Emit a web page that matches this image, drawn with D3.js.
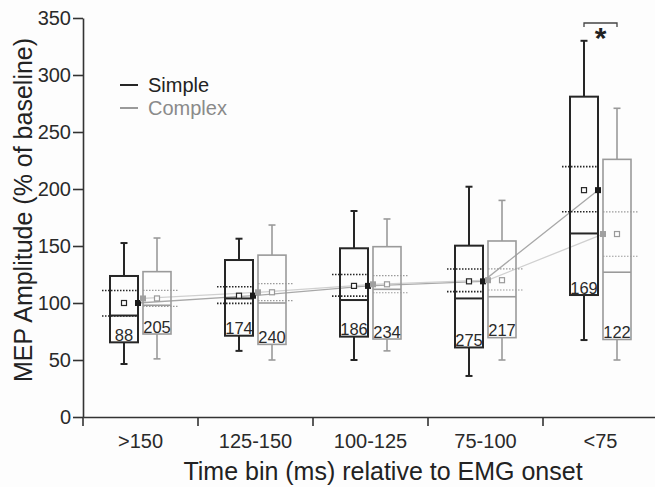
<!DOCTYPE html>
<html>
<head>
<meta charset="utf-8">
<script src="https://cdn.jsdelivr.net/npm/d3@7"></script>
<style>
  body { margin: 0; background: #fdfdfd; }
  svg { font-family: "Liberation Sans", Arial, sans-serif; }
</style>
</head>
<body>
<svg class="chart" width="655" height="487"></svg>
<script>
// time bins
var categories = [">150", "125-150", "100-125", "75-100", "<75"];
var yTicks = [0, 50, 100, 150, 200, 250, 300, 350];

// Simple task
var simpleLow    = [46.5, 58, 50, 36, 67.5];
var simpleQ1     = [65.5, 71.3, 70.5, 61, 107];
var simpleMedian = [89, 104, 102.6, 104, 161];
var simpleQ3     = [123.7, 137.7, 148, 150.3, 281];
var simpleHigh   = [152.6, 156.4, 180.7, 202, 330];
var simpleMean   = [100, 106.4, 115, 119, 199];
var simpleCiLow  = [88.6, 99.7, 106, 110, 180];
var simpleCiHigh = [111, 114.3, 125, 129.8, 219.6];
var simpleN      = [88, 174, 186, 275, 169];

// Complex task
var complexLow    = [51, 50, 58, 50, 50];
var complexQ1     = [72.8, 63.7, 68.4, 69.6, 68];
var complexMedian = [98, 100, 112, 105.5, 127];
var complexQ3     = [127.5, 142, 149.4, 154.4, 226];
var complexHigh   = [157, 168.4, 173.7, 190, 270.8];
var complexMean   = [104, 109.4, 116.4, 120, 160.5];
var complexCiLow  = [97, 102, 109, 111.4, 141];
var complexCiHigh = [111, 117, 124, 130, 180];
var complexN      = [205, 240, 234, 217, 122];

var svg = d3.select(".chart");

var x = d3.scaleBand().domain(categories).range([83, 658]).padding(0);
var y = d3.scaleLinear().domain([0, 350]).range([417, 18]);

var boxW = 28;
var offset = 16.5;

function buildRows(low, q1, med, q3, high, mean, ciLow, ciHigh, n) {
  return categories.map(function(c, i) {
    return {cat: c, low: low[i], q1: q1[i], med: med[i], q3: q3[i], high: high[i],
            mean: mean[i], ciLow: ciLow[i], ciHigh: ciHigh[i], n: n[i]};
  });
}

var series = [
  {name: "Simple", color: "#262626", dotColor: "#1a1a1a", lineColor: "#a8a8a8", width: 2, shift: -offset,
   rows: buildRows(simpleLow, simpleQ1, simpleMedian, simpleQ3, simpleHigh, simpleMean, simpleCiLow, simpleCiHigh, simpleN)},
  {name: "Complex", color: "#9a9a9a", dotColor: "#a0a0a0", lineColor: "#d0d0d0", width: 1.6, shift: offset,
   rows: buildRows(complexLow, complexQ1, complexMedian, complexQ3, complexHigh, complexMean, complexCiLow, complexCiHigh, complexN)}
];

function cx(d, s) { return x(d.cat) + x.bandwidth() / 2 + s.shift; }

// Axes
var yAxis = d3.axisLeft(y).tickValues(yTicks).tickSize(10).tickPadding(2).tickSizeOuter(0);
var gy = svg.append("g").attr("transform", "translate(83,0)").call(yAxis);
gy.selectAll("text").style("font-size", "20px").attr("fill", "#2a2a2a");

var xAxis = d3.axisBottom(x).tickSize(0).tickPadding(17);
var gx = svg.append("g").attr("transform", "translate(0,417)").call(xAxis);
gx.selectAll("text").style("font-size", "20px").attr("fill", "#2a2a2a");

svg.selectAll(".domain").attr("stroke", "#333").attr("stroke-width", 1.6);
svg.selectAll(".tick line").attr("stroke", "#333").attr("stroke-width", 1.6);

// x ticks sit on bin boundaries
svg.append("g").selectAll("line")
  .data(categories)
  .enter().append("line")
  .attr("x1", function(d) { return x(d); })
  .attr("x2", function(d) { return x(d); })
  .attr("y1", 417)
  .attr("y2", 426)
  .attr("stroke", "#333")
  .attr("stroke-width", 1.6);

// axis titles
svg.append("text")
  .attr("transform", "translate(32,210) rotate(-90)")
  .attr("text-anchor", "middle")
  .style("font-size", "25px")
  .attr("fill", "#222")
  .text("MEP Amplitude (% of baseline)");

svg.append("text")
  .attr("x", 383)
  .attr("y", 480)
  .attr("text-anchor", "middle")
  .style("font-size", "25px")
  .attr("fill", "#222")
  .text("Time bin (ms) relative to EMG onset");

// trend lines through the means
var meanLine = d3.line()
  .x(function(d) { return d.px; })
  .y(function(d) { return y(d.mean); });

series.forEach(function(s) {
  var pts = s.rows.map(function(d) {
    return {px: cx(d, s) + (s.shift < 0 ? boxW / 2 : -boxW / 2), mean: d.mean};
  });
  svg.append("path")
    .datum(pts)
    .attr("d", meanLine)
    .attr("fill", "none")
    .attr("stroke", s.lineColor)
    .attr("stroke-width", 1.3);
});

// boxes
series.forEach(function(s) {
  var g = svg.append("g").attr("class", "series " + s.name);
  var box = g.selectAll("g.box")
    .data(s.rows)
    .enter().append("g")
    .attr("class", "box");

  // whiskers
  box.append("line")
    .attr("x1", function(d) { return cx(d, s); })
    .attr("x2", function(d) { return cx(d, s); })
    .attr("y1", function(d) { return y(d.high); })
    .attr("y2", function(d) { return y(d.q3); })
    .attr("stroke", s.color).attr("stroke-width", s.width);
  box.append("line")
    .attr("x1", function(d) { return cx(d, s); })
    .attr("x2", function(d) { return cx(d, s); })
    .attr("y1", function(d) { return y(d.q1); })
    .attr("y2", function(d) { return y(d.low); })
    .attr("stroke", s.color).attr("stroke-width", s.width);
  ["high", "low"].forEach(function(k) {
    box.append("line")
      .attr("x1", function(d) { return cx(d, s) - 3.5; })
      .attr("x2", function(d) { return cx(d, s) + 3.5; })
      .attr("y1", function(d) { return y(d[k]); })
      .attr("y2", function(d) { return y(d[k]); })
      .attr("stroke", s.color).attr("stroke-width", s.width);
  });

  box.append("rect")
    .attr("x", function(d) { return cx(d, s) - boxW / 2; })
    .attr("y", function(d) { return y(d.q3); })
    .attr("width", boxW)
    .attr("height", function(d) { return y(d.q1) - y(d.q3); })
    .attr("fill", "none")
    .attr("stroke", s.color).attr("stroke-width", s.width);

  box.append("line")
    .attr("x1", function(d) { return cx(d, s) - boxW / 2; })
    .attr("x2", function(d) { return cx(d, s) + boxW / 2; })
    .attr("y1", function(d) { return y(d.med); })
    .attr("y2", function(d) { return y(d.med); })
    .attr("stroke", s.color).attr("stroke-width", s.width);

  // dotted confidence lines, pushed outward
  ["ciLow", "ciHigh"].forEach(function(k) {
    box.append("line")
      .attr("x1", function(d) { return cx(d, s) - boxW / 2 + (s.shift < 0 ? -8 : 0); })
      .attr("x2", function(d) { return cx(d, s) + boxW / 2 + (s.shift < 0 ? 0 : 8); })
      .attr("y1", function(d) { return y(d[k]); })
      .attr("y2", function(d) { return y(d[k]); })
      .attr("stroke", s.color)
      .attr("stroke-width", s.shift < 0 ? 1.6 : 1.2)
      .attr("stroke-dasharray", "1.5,1.5");
  });

  // mean marker (hollow square) and dot on the box edge
  box.append("rect")
    .attr("x", function(d) { return cx(d, s) - 2.5; })
    .attr("y", function(d) { return y(d.mean) - 2.5; })
    .attr("width", 5).attr("height", 5)
    .attr("fill", "#fdfdfd")
    .attr("stroke", s.color).attr("stroke-width", 1.2);
  box.append("rect")
    .attr("x", function(d) { return cx(d, s) + (s.shift < 0 ? boxW / 2 : -boxW / 2) - 3; })
    .attr("y", function(d) { return y(d.mean) - 3; })
    .attr("width", 6).attr("height", 6)
    .attr("fill", s.dotColor);

  // counts
  box.append("text")
    .attr("x", function(d) { return cx(d, s); })
    .attr("y", function(d) { return y(d.q1) - 1.5; })
    .attr("text-anchor", "middle")
    .style("font-size", "16.5px")
    .attr("fill", "#2a2a2a")
    .text(function(d) { return d.n; });
});

// legend
var legend = svg.append("g").attr("transform", "translate(120,85)");
series.forEach(function(s, i) {
  legend.append("line")
    .attr("x1", 0).attr("x2", 18)
    .attr("y1", i * 23).attr("y2", i * 23)
    .attr("stroke", s.color).attr("stroke-width", 2);
  legend.append("text")
    .attr("x", 28).attr("y", i * 23 + 7)
    .style("font-size", "20px")
    .attr("fill", i == 0 ? "#222" : "#8a8a8a")
    .text(s.name);
});

// significance bracket on the last bin
var sigCat = categories[4];
var bx1 = x(sigCat) + x.bandwidth() / 2 - offset;
var bx2 = x(sigCat) + x.bandwidth() / 2 + offset;
svg.append("path")
  .attr("d", "M" + bx1 + ",27V23H" + bx2 + "V27")
  .attr("fill", "none")
  .attr("stroke", "#444")
  .attr("stroke-width", 1.3);
svg.append("text")
  .attr("x", (bx1 + bx2) / 2)
  .attr("y", 48)
  .attr("text-anchor", "middle")
  .style("font-size", "30px")
  .style("font-weight", "bold")
  .attr("fill", "#222")
  .text("*");
</script>
</body>
</html>
